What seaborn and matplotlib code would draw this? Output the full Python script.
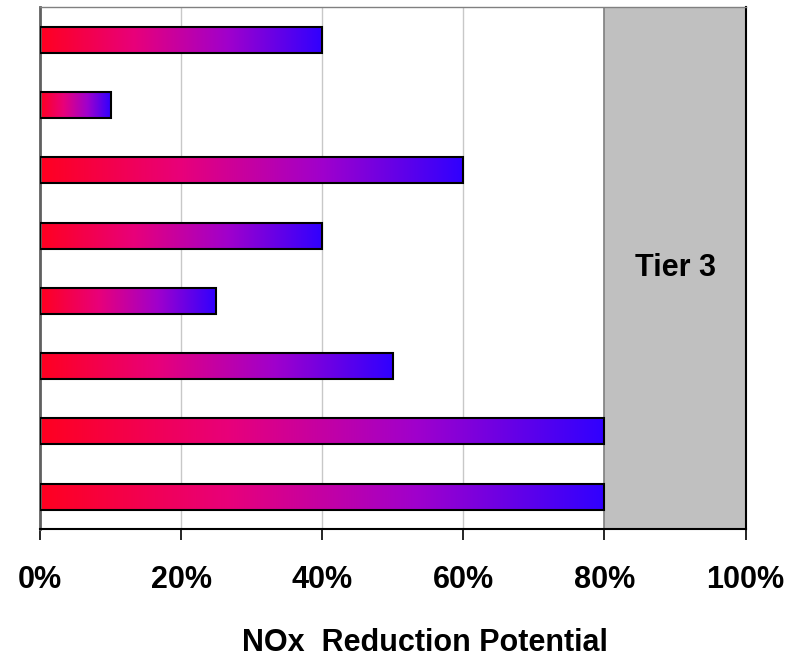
import numpy as np
import pandas as pd
import matplotlib
matplotlib.use('Agg')
import matplotlib.pyplot as plt
from matplotlib.colors import LinearSegmentedColormap
import seaborn as sns

# data (top bar first)
measures = ['M1', 'M2', 'M3', 'M4', 'M5', 'M6', 'M7', 'M8']
reduction = [40, 10, 60, 40, 25, 50, 80, 80]
tier3_range = [80, 100]
tick_vals = [0, 20, 40, 60, 80, 100]
tick_labels = ['0%', '20%', '40%', '60%', '80%', '100%']

df = pd.DataFrame({'measure': measures, 'reduction': reduction})

sns.set_style('ticks')
plt.rcParams['font.family'] = ['Liberation Sans', 'DejaVu Sans']

fig = plt.figure(figsize=(8, 6.59), dpi=100)
ax = fig.add_axes([0.05, 0.197, 0.882, 0.792])

# gray Tier 3 zone
ax.axvspan(tier3_range[0], tier3_range[1], facecolor='#c0c0c0', edgecolor='#808080',
           linewidth=1.2, zorder=1)
ax.text(np.mean(tier3_range), 3.5, 'Tier 3', ha='center', va='center',
        fontsize=22, fontweight='bold', color='black', zorder=5)

sns.barplot(data=df, x='reduction', y='measure', orient='h', width=0.4,
            color='white', edgecolor='black', linewidth=1.5, ax=ax, zorder=3)

# red -> blue gradient inside each bar
cmap = LinearSegmentedColormap.from_list('rb', ['#ff0020', '#e8007a', '#a000cc', '#3000ff'])
grad = np.linspace(0, 1, 256).reshape(1, -1)
for p in ax.patches:
    if p.get_width() <= 0 or p.get_zorder() != 3:
        continue
    x0, y0 = p.get_x(), p.get_y()
    w, h = p.get_width(), p.get_height()
    im = ax.imshow(grad, cmap=cmap, aspect='auto', extent=[x0, x0 + w, y0 + h, y0],
                   zorder=2.5, interpolation='bilinear')
    im.set_clip_path(p)
    p.set_facecolor('none')

ax.set_xlim(0, 100)
ax.set_ylim(7.5, -0.5)
ax.set_xticks(tick_vals)
ax.set_xticklabels(tick_labels, fontsize=22, fontweight='bold')
ax.tick_params(axis='x', direction='out', length=8, width=1.2, pad=18,
               colors='black', labelcolor='black')
ax.set_yticks([])
ax.set_ylabel('')
ax.set_xlabel('NOx  Reduction Potential', fontsize=22, fontweight='bold', color='black')
ax.xaxis.set_label_coords(0.546, -0.189)

ax.grid(axis='x', color='#c8c8c8', linewidth=1, zorder=0)
ax.set_axisbelow(True)

for side in ['top', 'left', 'right', 'bottom']:
    ax.spines[side].set_visible(True)
ax.spines['left'].set_color('#606060')
ax.spines['left'].set_linewidth(2)
ax.spines['top'].set_color('#808080')
ax.spines['top'].set_linewidth(1)
ax.spines['right'].set_color('black')
ax.spines['right'].set_linewidth(1.5)
ax.spines['bottom'].set_color('black')
ax.spines['bottom'].set_linewidth(1.5)

fig.savefig('out.png', dpi=100)
